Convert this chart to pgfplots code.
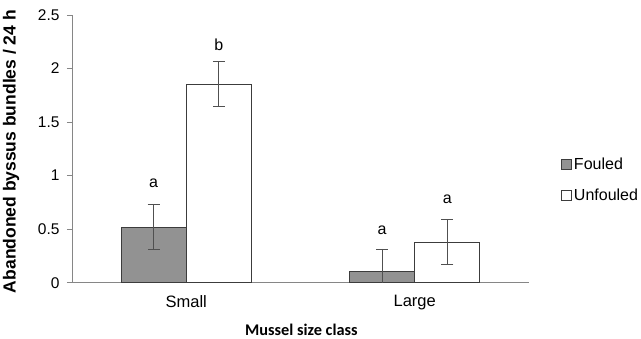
\documentclass[border=0pt]{standalone}
\usepackage{fontspec}
\setmainfont{Liberation Sans}
\newfontfamily\carlito{Carlito}
\usepackage{pgfplots}
\pgfplotsset{compat=1.18}
\definecolor{barfill}{RGB}{146,146,146}
\definecolor{barline}{RGB}{60,60,60}
\definecolor{axisgray}{RGB}{134,134,134}
\definecolor{errgray}{RGB}{80,80,80}
\begin{document}
\begin{tikzpicture}
\useasboundingbox (0,0) rectangle (641pt,339pt);
\begin{axis}[
  at={(72pt,56.3pt)}, anchor=south west,
  scale only axis, width=457pt, height=267.7pt,
  xmin=-0.5, xmax=1.5, ymin=0, ymax=2.5,
  axis x line*=bottom, axis y line*=left,
  axis line style={axisgray, line width=0.8pt},
  xtick={0,1}, xticklabels={Small,Large},
  x tick style={draw=none},
  extra x ticks={-0.5,0.5,1.5}, extra x tick labels={},
  extra x tick style={tick style={draw=axisgray, line width=0.8pt}, major tick length=5pt, tick align=outside},
  ytick={0,0.5,1,1.5,2,2.5},
  yticklabels={0,0.5,1,1.5,2,2.5},
  y tick style={draw=axisgray, line width=0.8pt},
  major tick length=5pt, tick align=outside,
  yticklabel style={font=\fontsize{15.5}{18}\selectfont, xshift=-4pt},
  xticklabel style={font=\fontsize{16.5}{19}\selectfont, yshift=-4pt},
  /pgf/number format/assume math mode=true,
  ylabel={\bfseries Abandoned byssus bundles / 24 h},
  ylabel style={font=\fontsize{17.5}{20}\selectfont, at={(axis description cs:-0.1335,0.49)}, anchor=center, rotate=0},
  xlabel={\carlito\bfseries Mussel size class},
  xlabel style={font=\fontsize{16.3}{19}\selectfont, at={(axis description cs:0.502,-0.175)}, anchor=center},
  ybar=0pt, bar width=0.285,
  legend style={draw=none, fill=none, at={(axis description cs:1.07,0.475)}, anchor=north west,
    font=\fontsize{16}{19}\selectfont, row sep=14pt, inner sep=0pt},
  legend cell align=left,
  legend image code/.code={\draw[#1] (0pt,-5pt) rectangle (10pt,5pt);},
  every axis legend/.append style={/tikz/every even column/.append style={column sep=2pt}},
]
\addplot[fill=barfill, draw=barline, line width=0.8pt, bar shift=-0.1425,
  error bars/.cd, y dir=both, y explicit,
  error bar style={errgray, line width=0.8pt},
  error mark options={rotate=90, mark size=6pt, errgray, line width=0.8pt}]
  coordinates {(0,0.52) +- (0,0.21) (1,0.105) +- (0,0.21)};
\addlegendentry{Fouled}
\addplot[fill=white, draw=barline, line width=0.8pt, bar shift=0.1425,
  error bars/.cd, y dir=both, y explicit,
  error bar style={errgray, line width=0.8pt},
  error mark options={rotate=90, mark size=6pt, errgray, line width=0.8pt}]
  coordinates {(0,1.855) +- (0,0.21) (1,0.377) +- (0,0.21)};
\addlegendentry{Unfouled}
\node[font=\fontsize{16}{19}\selectfont] at (axis cs:-0.1425,0.93) {a};
\node[font=\fontsize{16}{19}\selectfont] at (axis cs:0.1425,2.22) {b};
\node[font=\fontsize{16}{19}\selectfont] at (axis cs:0.8575,0.49) {a};
\node[font=\fontsize{16}{19}\selectfont] at (axis cs:1.1425,0.78) {a};
\end{axis}
\end{tikzpicture}
\end{document}
